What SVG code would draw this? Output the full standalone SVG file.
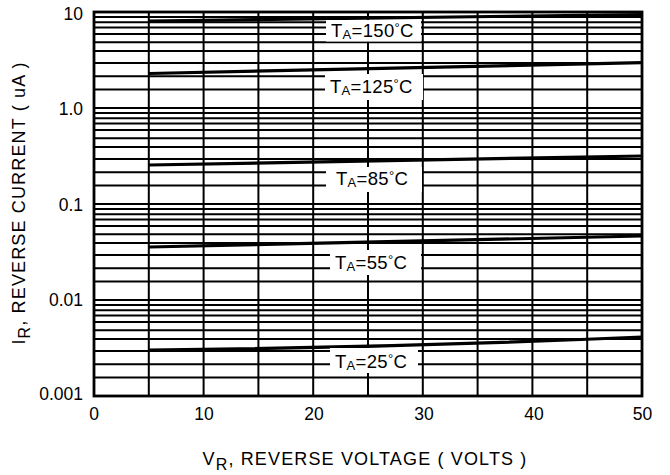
<svg xmlns="http://www.w3.org/2000/svg" width="670" height="475" viewBox="0 0 670 475">
<style>
.grid{stroke:#000;stroke-width:2;fill:none}
.border{stroke:#000;stroke-width:2.8;fill:none}
.curve{stroke:#000;stroke-width:3.2;fill:none;stroke-linecap:butt}
.tick{font-family:"Liberation Sans",Arial,sans-serif;font-size:17.5px;fill:#000}
.title{font-family:"Liberation Sans",Arial,sans-serif;font-size:18px;fill:#000;letter-spacing:1.15px}
.lab{font-family:"Liberation Sans",Arial,sans-serif;font-size:18.5px;fill:#000;letter-spacing:0.3px}
.box{fill:#fff;stroke:none}
</style>
<rect width="670" height="475" fill="#fff"/>
<g id="grid">
<path class="grid" d="M94,17H642M94,22.3H642M94,27.4H642M94,34H642M94,42.3H642M94,51H642M94,63H642M94,76.3H642M94,89.5H642
M94,108H642M94,113H642M94,118.3H642M94,123.4H642M94,130H642M94,138.3H642M94,147H642M94,159H642M94,172.3H642M94,185.5H642
M94,204H642M94,209H642M94,214.3H642M94,219.4H642M94,226H642M94,234.3H642M94,243H642M94,255H642M94,268.3H642M94,281.5H642
M94,300H642M94,305H642M94,310.3H642M94,315.4H642M94,322H642M94,330.3H642M94,339H642M94,351H642M94,364.3H642M94,377.5H642"/>
<path class="grid" d="M148.8,12V396M203.6,12V396M258.4,12V396M313.2,12V396M368,12V396M422.8,12V396M477.6,12V396M532.4,12V396M587.2,12V396"/>
<rect class="border" x="94" y="12" width="548" height="384"/>
</g>
<g id="curves">
<path id="c150" class="curve" d="M149,21 Q395,17.5 642,14.5"/>
<path id="c125" class="curve" d="M149,73.5 L642,62.7"/>
<path id="c85" class="curve" d="M149,165 L642,156"/>
<path id="c55" class="curve" d="M149,247 L642,236"/>
<path id="c25" class="curve" d="M149,350 Q400,347.5 642,337"/>
</g>
<g id="label150">
<rect class="box" x="326" y="20" width="95" height="21.5"/>
<text class="lab" x="331" y="37.3">T<tspan font-size="13" dy="2">A</tspan><tspan dy="-2">=150</tspan><tspan font-size="13" dy="-5">°</tspan><tspan dy="5">C</tspan></text>
</g>
<g id="label125">
<rect class="box" x="325" y="74" width="98" height="26"/>
<text class="lab" x="330" y="93.3">T<tspan font-size="13" dy="2">A</tspan><tspan dy="-2">=125</tspan><tspan font-size="13" dy="-5">°</tspan><tspan dy="5">C</tspan></text>
</g>
<g id="label85">
<rect class="box" x="326" y="167" width="96" height="25"/>
<text class="lab" x="336" y="185">T<tspan font-size="13" dy="2">A</tspan><tspan dy="-2">=85</tspan><tspan font-size="13" dy="-5">°</tspan><tspan dy="5">C</tspan></text>
</g>
<g id="label55">
<rect class="box" x="330" y="250" width="91" height="25"/>
<text class="lab" x="335" y="268.5">T<tspan font-size="13" dy="2">A</tspan><tspan dy="-2">=55</tspan><tspan font-size="13" dy="-5">°</tspan><tspan dy="5">C</tspan></text>
</g>
<g id="label25">
<rect class="box" x="330" y="348" width="88" height="25"/>
<text class="lab" x="335" y="368">T<tspan font-size="13" dy="2">A</tspan><tspan dy="-2">=25</tspan><tspan font-size="13" dy="-5">°</tspan><tspan dy="5">C</tspan></text>
</g>
<g id="yticks">
<text class="tick" x="83" y="19.5" text-anchor="end">10</text>
<text class="tick" x="83" y="115" text-anchor="end">1.0</text>
<text class="tick" x="83" y="211" text-anchor="end">0.1</text>
<text class="tick" x="83" y="305.5" text-anchor="end">0.01</text>
<text class="tick" x="83" y="400" text-anchor="end">0.001</text>
</g>
<g id="xticks">
<text class="tick" x="94" y="420" text-anchor="middle">0</text>
<text class="tick" x="204" y="420" text-anchor="middle">10</text>
<text class="tick" x="314" y="420" text-anchor="middle">20</text>
<text class="tick" x="424" y="420" text-anchor="middle">30</text>
<text class="tick" x="534" y="420" text-anchor="middle">40</text>
<text class="tick" x="642.5" y="420" text-anchor="middle">50</text>
</g>
<g id="xtitle">
<text class="title" x="365" y="465" text-anchor="middle">V<tspan font-size="16" dy="5">R</tspan><tspan dy="-5">, REVERSE VOLTAGE ( VOLTS )</tspan></text>
</g>
<g id="ytitle">
<text class="title" transform="translate(25,203) rotate(-90)" x="0" y="0" text-anchor="middle">I<tspan font-size="16" dy="5">R</tspan><tspan dy="-5">, REVERSE CURRENT ( uA )</tspan></text>
</g>
</svg>
